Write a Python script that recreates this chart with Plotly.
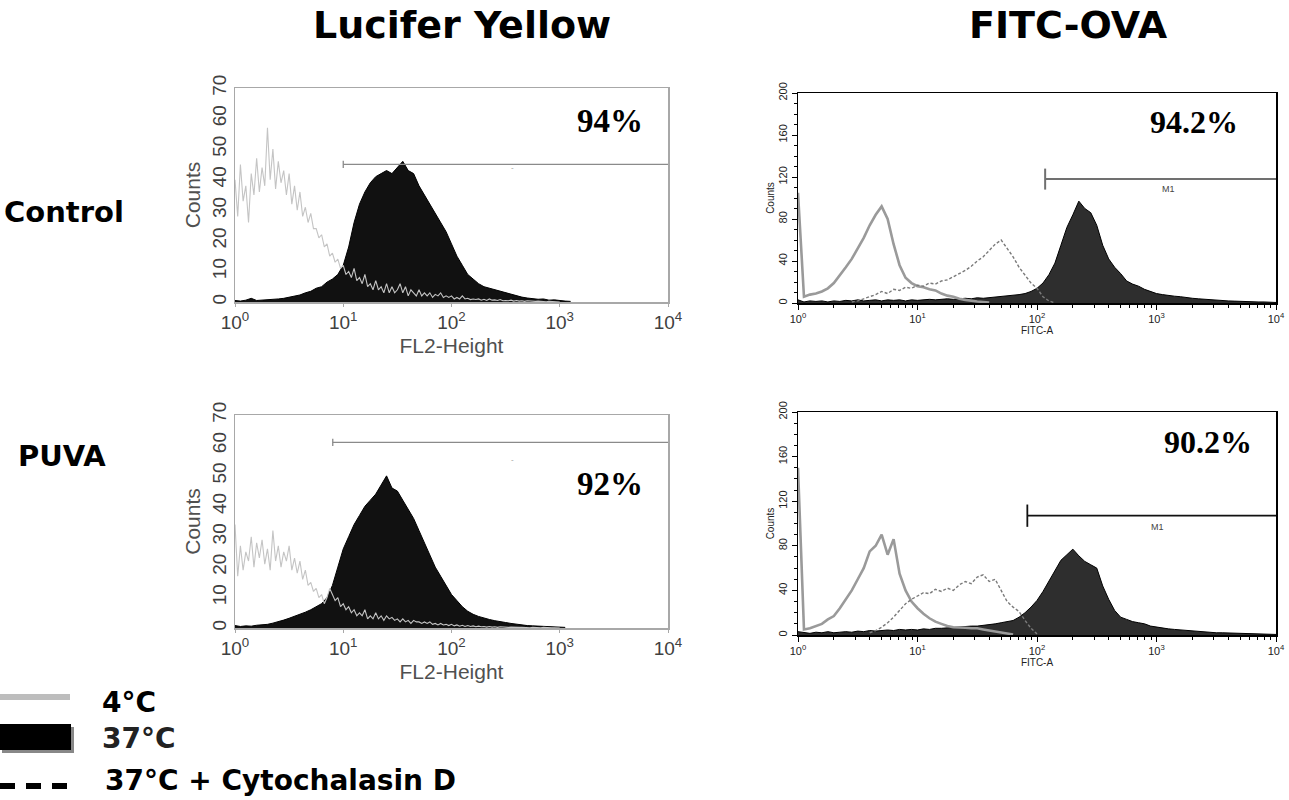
import plotly.graph_objects as go

# ---------------- data ----------------
# log10 of fluorescence channel (bin centres), 0.05-decade bins
LOG_CH = [0.00, 0.05, 0.10, 0.15, 0.20, 0.25, 0.30, 0.35, 0.40, 0.45,
          0.50, 0.55, 0.60, 0.65, 0.70, 0.75, 0.80, 0.85, 0.90, 0.95,
          1.00, 1.05, 1.10, 1.15, 1.20, 1.25, 1.30, 1.35, 1.40, 1.45,
          1.50, 1.55, 1.60, 1.65, 1.70, 1.75, 1.80, 1.85, 1.90, 1.95,
          2.00, 2.05, 2.10, 2.15, 2.20, 2.25, 2.30, 2.35, 2.40, 2.45,
          2.50, 2.55, 2.60, 2.65, 2.70, 2.75, 2.80, 2.85, 2.90, 2.95,
          3.00, 3.05, 3.10, 3.15, 3.20, 3.25, 3.30, 3.35, 3.40, 3.45,
          3.50, 3.55, 3.60, 3.65, 3.70, 3.75, 3.80, 3.85, 3.90, 3.95,
          4.00]
# finer 0.025-decade bins used for the noisy 4 °C Lucifer Yellow traces
LOG_CH_FINE = [0.000, 0.025, 0.050, 0.075, 0.100, 0.125, 0.150, 0.175, 0.200, 0.225,
               0.250, 0.275, 0.300, 0.325, 0.350, 0.375, 0.400, 0.425, 0.450, 0.475,
               0.500, 0.525, 0.550, 0.575, 0.600, 0.625, 0.650, 0.675, 0.700, 0.725,
               0.750, 0.775, 0.800, 0.825, 0.850, 0.875, 0.900, 0.925, 0.950, 0.975,
               1.000, 1.025, 1.050, 1.075, 1.100, 1.125, 1.150, 1.175, 1.200, 1.225,
               1.250, 1.275, 1.300, 1.325, 1.350, 1.375, 1.400, 1.425, 1.450, 1.475,
               1.500, 1.525, 1.550, 1.575, 1.600, 1.625, 1.650, 1.675, 1.700, 1.725,
               1.750, 1.775, 1.800, 1.825, 1.850, 1.875, 1.900, 1.925, 1.950, 1.975,
               2.000, 2.025, 2.050, 2.075, 2.100, 2.125, 2.150, 2.175, 2.200, 2.225,
               2.250, 2.275, 2.300, 2.325, 2.350, 2.375, 2.400, 2.425, 2.450, 2.475,
               2.500, 2.525, 2.550, 2.575, 2.600, 2.625, 2.650, 2.675, 2.700, 2.725,
               2.750, 2.775, 2.800, 2.825, 2.850, 2.875, 2.900, 2.925, 2.950, 2.975,
               3.000]

# Lucifer Yellow, Control
LY_CTRL_4C = [40, 28, 45, 33, 38, 26, 42, 35, 47, 36,
              44, 38, 57, 40, 50, 37, 46, 39, 43, 35,
              42, 32, 38, 30, 36, 28, 31, 26, 29, 24,
              24, 21, 22, 18, 19, 15, 16, 13, 14, 11,
              12, 9, 10, 8, 11, 7, 8, 6, 9, 5,
              6, 4, 7, 4, 5, 3, 6, 3, 5, 3,
              4, 6, 3, 5, 2, 4, 3, 2, 4, 2,
              3, 2, 3, 1.5, 2.5, 2, 3, 1.5, 2, 1.5,
              2, 1, 1.5, 1, 2, 1, 1.2, 0.8, 1, 0.8,
              1, 0.6, 0.9, 0.5, 1, 0.6, 0.7, 0.5, 0.8, 0.4,
              0.5, 0.4, 0.6, 0.3, 0.5, 0.3, 0.4, 0.2, 0.4, 0.3,
              0.3, 0.2, 0.3, 0.2, 0.2, 0.1, 0.2, 0.1, 0.1, 0.1,
              0]
LY_CTRL_37C = [0.5, 0.3, 0.6, 1.2, 0.5, 0.6, 0.8, 0.7, 1.0, 1.2,
               1.5, 2.0, 2.3, 3.0, 3.5, 4.5, 5.0, 6.5, 7.5, 9,
               12, 18, 26, 32, 36, 39, 41, 42, 43, 42,
               44, 46, 43, 42, 38, 35, 32, 29, 26, 23,
               19, 15, 12, 9, 7.5, 6, 5, 4.5, 4, 3.5,
               3, 2.5, 2, 1.6, 1.3, 1.1, 0.9, 1.0, 0.6, 0.7,
               0.4, 0.3, 0.2]
# Lucifer Yellow, PUVA
LY_PUVA_4C = [34, 17, 27, 19, 25, 22, 30, 20, 28, 23,
              29, 21, 26, 19, 32, 22, 27, 20, 25, 22,
              27, 19, 23, 18, 22, 16, 19, 14, 15, 12,
              13, 10, 11, 8, 10, 13, 11, 9, 10, 7,
              8, 6, 7, 5, 6, 4, 5, 4, 6, 3,
              4, 3, 5, 3, 4, 2.5, 4, 3, 3.5, 2.5,
              3, 2, 3, 2, 2.5, 1.5, 2.5, 2, 2, 1.5,
              2, 1.5, 2, 1.2, 1.5, 1, 1.5, 1, 1.2, 0.8,
              1.2, 0.7, 1, 0.6, 0.9, 0.5, 0.8, 0.5, 0.7, 0.4,
              0.6, 0.4, 0.5, 0.3, 0.5, 0.3, 0.4, 0.2, 0.4, 0.3,
              0.3, 0.2, 0.3, 0.2, 0.3, 0.2, 0.2, 0.1, 0.2, 0.1,
              0.2, 0.1, 0.1, 0.1, 0.2, 0.1, 0.1, 0.1, 0.1, 0,
              0]
LY_PUVA_37C = [0.8, 0.5, 0.7, 0.6, 0.9, 1.0, 1.2, 1.6, 2.0, 2.6,
               3.2, 3.8, 4.5, 5.2, 6, 7, 8, 10, 14, 20,
               26, 30, 34, 37, 40, 42, 44, 47, 50, 46,
               45, 42, 39, 36, 32, 28, 24, 20, 17, 14,
               11, 9, 7, 5.5, 4.5, 3.8, 3.2, 2.8, 2.4, 2.0,
               1.8, 1.5, 1.2, 1.0, 0.8, 0.7, 0.6, 0.5, 0.5, 0.4,
               0.3, 0.2]

# FITC-OVA, Control
OVA_CTRL_4C = [105, 6, 8, 9, 11, 14, 19, 26, 34, 42,
               52, 62, 74, 84, 92, 80, 56, 36, 24, 19,
               16, 15, 13, 12, 9, 7, 6, 4, 3, 2,
               1.5, 1, 0.5]
OVA_CTRL_CYTOD_START = 0.45
OVA_CTRL_CYTOD = [1, 2, 4, 6, 8, 11, 9, 13, 12, 15, 14,
                  17, 16, 19, 18, 21, 22, 25, 28, 31, 35,
                  40, 44, 50, 56, 60, 52, 44, 34, 26, 19,
                  14, 6, 2, 0]
OVA_CTRL_37C = [3, 1, 2, 1.5, 2, 1, 2, 1.5, 2.5, 2,
                3, 2, 2.5, 3, 2, 3, 2.5, 3, 2, 3,
                2.5, 3, 3.5, 3, 3.5, 4, 3.5, 4, 4.5, 4,
                5, 4.5, 5, 5.5, 6, 6.5, 7, 8, 9, 11,
                14, 19, 27, 38, 55, 72, 84, 97, 90, 86,
                74, 55, 42, 34, 28, 21, 18, 16, 13, 11,
                9, 8, 7, 6.5, 6, 5, 4.5, 4, 3.5, 3,
                2.5, 2.5, 2, 1.8, 1.5, 1.5, 1.2, 1, 1, 0.8,
                0.5]
# FITC-OVA, PUVA
OVA_PUVA_4C = [150, 5, 6, 8, 10, 14, 17, 24, 32, 40,
               50, 60, 75, 80, 90, 72, 86, 55, 40, 30,
               24, 19, 15, 12, 10, 8, 7, 7, 6.5, 6,
               6, 5, 4, 3, 2, 1, 0.5]
OVA_PUVA_CYTOD_START = 0.60
OVA_PUVA_CYTOD = [2, 4, 7, 11, 16, 22, 28, 32,
                  35, 38, 37, 41, 39, 42, 40, 45, 48, 46,
                  52, 54, 48, 50, 40, 30, 25, 21, 13, 6,
                  1]
OVA_PUVA_37C = [3, 2, 1.5, 2.5, 2, 3, 2, 2.5, 3, 2.5,
                3.5, 3, 4, 3.5, 4, 4.5, 4, 5, 4.5, 5,
                4.5, 5.5, 5, 6, 6, 6.5, 7, 7, 7.5, 8,
                8, 8.5, 9, 10, 11, 12, 13, 16, 20, 25,
                31, 39, 48, 58, 67, 72, 77, 71, 66, 63,
                60, 44, 32, 22, 16, 14, 12, 11, 10, 8,
                7, 6, 5.5, 5, 4.5, 4, 3.5, 3, 3, 2.5,
                2, 2, 1.8, 1.5, 1.5, 1.2, 1, 1, 0.8, 0.6,
                0.5]

# marker gates: (start channel, end channel, counts level)
LY_GATES = {"ctrl": (10.0, 12000.0, 45), "puva": (8.0, 12000.0, 61)}
OVA_GATES = {"ctrl": (117.0, 10000.0, 118), "puva": (83.0, 10000.0, 107)}
PERCENTS = {"ly_ctrl": "94%", "ly_puva": "92%", "ova_ctrl": "94.2%", "ova_puva": "90.2%"}

DECADE_VALS = [1, 10, 100, 1000, 10000]
DECADE_TEXT = ["10<sup>0</sup>", "10<sup>1</sup>", "10<sup>2</sup>", "10<sup>3</sup>", "10<sup>4</sup>"]
LY_YTICKS = [0, 10, 20, 30, 40, 50, 60, 70]
OVA_YTICKS = [0, 40, 80, 120, 160, 200]

# ---------------- helpers ----------------
W, H = 1289, 800


def fx(p):
    return p / W


def fy(p):
    return 1 - p / H


def chan(start, n, grid=LOG_CH):
    i = grid.index(start)
    return [10 ** e for e in grid[i:i + n]]


fig = go.Figure()

# axis ids: 1 = LY ctrl, 2 = LY puva, 3 = OVA ctrl, 4 = OVA puva
panels = {
    1: dict(xd=[fx(235), fx(668)], yd=[fy(302), fy(88)]),
    2: dict(xd=[fx(235), fx(668)], yd=[fy(628), fy(415)]),
    3: dict(xd=[fx(798), fx(1276)], yd=[fy(303), fy(93)]),
    4: dict(xd=[fx(798), fx(1276)], yd=[fy(635), fy(412)]),
}


def ax(n, kind):
    return kind if n == 1 else f"{kind}{n}"


def add_fill(n, vals, fillc, linec):
    fig.add_trace(go.Scatter(x=chan(0.0, len(vals)), y=vals, mode="lines", fill="tozeroy",
                             fillcolor=fillc, line=dict(color=linec, width=1),
                             xaxis=ax(n, "x"), yaxis=ax(n, "y"), showlegend=False,
                             hoverinfo="skip"))


def add_line(n, vals, start, color, width, dash="solid", grid=LOG_CH):
    fig.add_trace(go.Scatter(x=chan(start, len(vals), grid), y=vals, mode="lines",
                             line=dict(color=color, width=width, dash=dash),
                             xaxis=ax(n, "x"), yaxis=ax(n, "y"), showlegend=False,
                             hoverinfo="skip"))


def add_gate(n, gate, cap, color, width, left_only=False):
    x0, x1, lvl = gate
    xs = [x0, x1, None, x0, x0]
    ys = [lvl, lvl, None, lvl - cap, lvl + cap]
    if not left_only:
        xs += [None, x1, x1]
        ys += [None, lvl - cap, lvl + cap]
    fig.add_trace(go.Scatter(x=xs, y=ys, mode="lines", line=dict(color=color, width=width),
                             xaxis=ax(n, "x"), yaxis=ax(n, "y"), showlegend=False,
                             cliponaxis=False, hoverinfo="skip"))


# Lucifer Yellow panels
add_fill(1, LY_CTRL_37C, "#111111", "#000000")
add_line(1, LY_CTRL_4C, 0.0, "#c4c4c4", 1.1, grid=LOG_CH_FINE)
add_gate(1, LY_GATES["ctrl"], 1.2, "#8a8a8a", 1.3)
add_fill(2, LY_PUVA_37C, "#111111", "#000000")
add_line(2, LY_PUVA_4C, 0.0, "#c4c4c4", 1.1, grid=LOG_CH_FINE)
add_gate(2, LY_GATES["puva"], 1.2, "#8a8a8a", 1.3)

# FITC-OVA panels
add_fill(3, OVA_CTRL_37C, "#2e2e2e", "#000000")
add_line(3, OVA_CTRL_4C, 0.0, "#9a9a9a", 2.6)
add_line(3, OVA_CTRL_CYTOD, OVA_CTRL_CYTOD_START, "#7a7a7a", 1.4, "3px,2px")
add_gate(3, OVA_GATES["ctrl"], 10, "#707070", 2, left_only=True)
add_fill(4, OVA_PUVA_37C, "#2e2e2e", "#000000")
add_line(4, OVA_PUVA_4C, 0.0, "#9a9a9a", 2.6)
add_line(4, OVA_PUVA_CYTOD, OVA_PUVA_CYTOD_START, "#7a7a7a", 1.4, "3px,2px")
add_gate(4, OVA_GATES["puva"], 10, "#111111", 1.8, left_only=True)

lay = {}
LY_FONT = dict(family="Liberation Sans, Arial", size=19, color="#404040")
for n in (1, 2):
    lay[f"xaxis{n if n > 1 else ''}"] = dict(
        domain=panels[n]["xd"], anchor=ax(n, "y"), type="log", range=[0, 4],
        showgrid=False, zeroline=False, showline=True, mirror=True,
        linecolor="#a8a8a8", linewidth=1.5, ticks="outside", ticklen=3, tickcolor="#a8a8a8",
        tickmode="array", tickvals=DECADE_VALS, ticktext=DECADE_TEXT, tickfont=LY_FONT,
        title=dict(text="FL2-Height", font=dict(family="Liberation Sans, Arial", size=21, color="#505050"),
                   standoff=6))
    lay[f"yaxis{n if n > 1 else ''}"] = dict(
        domain=panels[n]["yd"], anchor=ax(n, "x"), range=[0, 70],
        showgrid=False, zeroline=False, showline=True, mirror=True,
        linecolor="#a8a8a8", linewidth=1.5, ticks="", tickmode="array", tickvals=LY_YTICKS,
        tickangle=-90, tickfont=LY_FONT,
        title=dict(text="Counts", font=dict(family="Liberation Sans, Arial", size=21, color="#505050"),
                   standoff=2))

OVA_FONT = dict(family="Liberation Sans, Arial", size=11, color="#222222")
MINOR_X = [m * d for d in (1, 10, 100, 1000) for m in (2, 3, 4, 5, 6, 7, 8, 9)]
for n in (3, 4):
    lay[f"xaxis{n}"] = dict(
        domain=panels[n]["xd"], anchor=ax(n, "y"), type="log", range=[0, 4],
        showgrid=False, zeroline=False, showline=True, mirror=True,
        linecolor="#000000", linewidth=1.5, ticks="outside", ticklen=5, tickcolor="#000000",
        tickmode="array", tickvals=DECADE_VALS, ticktext=DECADE_TEXT, tickfont=OVA_FONT,
        minor=dict(tickmode="array", tickvals=MINOR_X, ticks="outside", ticklen=3,
                   tickcolor="#000000", showgrid=False),
        title=dict(text="FITC-A", font=dict(family="Liberation Sans, Arial", size=10, color="#222"),
                   standoff=0))
    lay[f"yaxis{n}"] = dict(
        domain=panels[n]["yd"], anchor=ax(n, "x"), range=[0, 200],
        showgrid=False, zeroline=False, showline=True, mirror=True,
        linecolor="#000000", linewidth=1.5, ticks="outside", ticklen=5, tickcolor="#000000",
        tickmode="array", tickvals=OVA_YTICKS, tickangle=-90, tickfont=OVA_FONT,
        minor=dict(dtick=10, ticks="outside", ticklen=3, tickcolor="#000000", showgrid=False),
        title=dict(text="Counts", font=dict(family="Liberation Sans, Arial", size=10, color="#222"),
                   standoff=0))

annotations = []


def txt(text, x, y, size, family="DejaVu Sans", color="#000", xanchor="center"):
    annotations.append(dict(text=text, x=fx(x), y=fy(y), xref="paper", yref="paper",
                            xanchor=xanchor, yanchor="middle", showarrow=False,
                            font=dict(family=family, size=size, color=color)))


txt("<b>Lucifer Yellow</b>", 462, 25, 38)
txt("<b>FITC-OVA</b>", 1068, 25, 38)
txt("<b>Control</b>", 2, 212, 29, xanchor="left")
txt("<b>PUVA</b>", 16, 456, 29, xanchor="left")
SERIF = "Liberation Serif, Times New Roman"
txt("<b>" + PERCENTS["ly_ctrl"] + "</b>", 610, 121, 33, SERIF)
txt("<b>" + PERCENTS["ly_puva"] + "</b>", 610, 484, 33, SERIF)
txt("<b>" + PERCENTS["ova_ctrl"] + "</b>", 1194, 122, 32, SERIF)
txt("<b>" + PERCENTS["ova_puva"] + "</b>", 1208, 442, 32, SERIF)
txt("M1", 1168, 189, 9, "Liberation Sans", "#444")
txt("M1", 1157, 527, 9, "Liberation Sans", "#444")
txt("-", 512, 168, 8, "Liberation Sans", "#999")
txt("-", 512, 459, 8, "Liberation Sans", "#999")
# legend
txt("<b>4°C</b>", 100, 702, 28, xanchor="left")
txt("<b>37°C</b>", 100, 738, 28, color="#222", xanchor="left")
txt("<b>37°C + Cytochalasin D</b>", 103, 780, 28, xanchor="left")

shapes = [
    dict(type="line", xref="paper", yref="paper", x0=fx(0), x1=fx(70), y0=fy(697), y1=fy(697),
         line=dict(color="#bdbdbd", width=6)),
    dict(type="rect", xref="paper", yref="paper", x0=fx(2), x1=fx(74), y0=fy(753), y1=fy(727),
         line=dict(width=0), fillcolor="#888888"),
    dict(type="rect", xref="paper", yref="paper", x0=fx(0), x1=fx(71), y0=fy(750), y1=fy(724),
         line=dict(width=0), fillcolor="#000000"),
    dict(type="line", xref="paper", yref="paper", x0=fx(0), x1=fx(70), y0=fy(786), y1=fy(786),
         line=dict(color="#000000", width=6, dash="15px,11px")),
]

fig.update_layout(
    width=W, height=H, autosize=False,
    margin=dict(l=0, r=0, t=0, b=0, autoexpand=False),
    paper_bgcolor="white", plot_bgcolor="white",
    showlegend=False,
    annotations=annotations, shapes=shapes,
    **lay,
)

fig.write_html("out.html",
               config={"displayModeBar": False, "staticPlot": True},
               post_script="document.body.style.margin='0';document.body.style.overflow='hidden';")
